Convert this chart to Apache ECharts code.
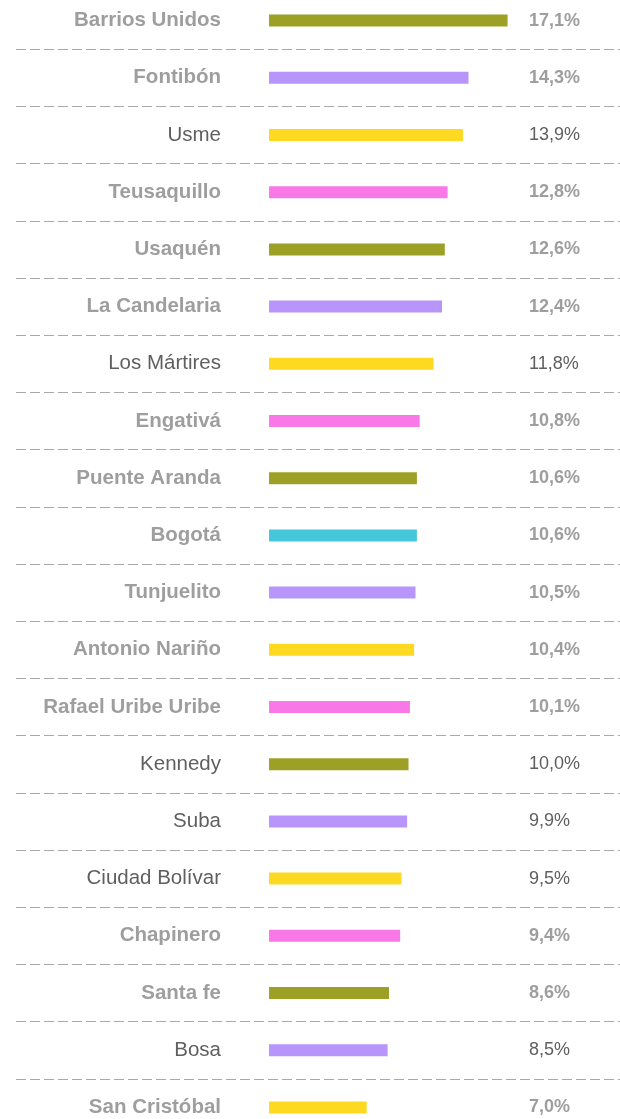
<!DOCTYPE html>
<html>
<head>
<meta charset="utf-8">
<script src="https://cdn.jsdelivr.net/npm/echarts@6/dist/echarts.min.js"></script>
<style>
  html, body { margin: 0; padding: 0; background: #fff; overflow: hidden; }
  /* chart is a bit taller than the window: first/last rows are clipped like in the original */
  #container1 { position: absolute; left: 0; top: -8px; width: 620px; height: 1144px; }
</style>
</head>
<body>
<div id="container1"></div>
<script>
// localidades, ordered as in the chart (top to bottom)
var localidades = ['Barrios Unidos', 'Fontibón', 'Usme', 'Teusaquillo', 'Usaquén',
    'La Candelaria', 'Los Mártires', 'Engativá', 'Puente Aranda', 'Bogotá',
    'Tunjuelito', 'Antonio Nariño', 'Rafael Uribe Uribe', 'Kennedy', 'Suba',
    'Ciudad Bolívar', 'Chapinero', 'Santa fe', 'Bosa', 'San Cristóbal'];
var porcentajes = [17.1, 14.3, 13.9, 12.8, 12.6, 12.4, 11.8, 10.8, 10.6, 10.6,
    10.5, 10.4, 10.1, 10.0, 9.9, 9.5, 9.4, 8.6, 8.5, 7.0];
// rows written in dark, regular text
var resaltadas = ['Usme', 'Los Mártires', 'Kennedy', 'Suba', 'Ciudad Bolívar', 'Bosa'];

var colores = ['#9ca024', '#b795fa', '#fdd921', '#f978e7'];
var colorBogota = '#46c6da';

var dom = document.getElementById("container1");
var myChart = echarts.init(dom);

var barData = porcentajes.map(function (v, i) {
    var c = localidades[i] === 'Bogotá' ? colorBogota : colores[(i > 9 ? i - 1 : i) % 4];
    return { value: v, itemStyle: { color: c } };
});

function tag(name) {
    return resaltadas.indexOf(name) >= 0 ? 'h' : 'g';
}

var nameStyles = {
    g: { color: '#9e9e9e', fontWeight: 'bold', fontSize: 20.5, fontFamily: 'Liberation Sans' },
    h: { color: '#5f5f5f', fontWeight: 'normal', fontSize: 20.5, fontFamily: 'Liberation Sans' }
};
var valueStyles = {
    g: { color: '#9e9e9e', fontWeight: 'bold', fontSize: 18, fontFamily: 'Liberation Sans' },
    h: { color: '#5f5f5f', fontWeight: 'normal', fontSize: 18, fontFamily: 'Liberation Sans' }
};

option = {
    animation: false,
    grid: {
        left: 16,
        right: 0,
        top: 0,
        bottom: 0
    },
    xAxis: {
        type: 'value',
        show: false,
        min: -18.14,
        max: 25.16
    },
    yAxis: [
        {
            type: 'category',
            inverse: true,
            position: 'left',
            data: localidades,
            axisLine: { show: false },
            axisTick: { show: false },
            axisLabel: {
                interval: 0,
                margin: -205,
                align: 'right',
                formatter: function (name) {
                    return '{' + tag(name) + '|' + name + '}';
                },
                rich: nameStyles
            },
            splitLine: {
                show: true,
                interval: 0,
                lineStyle: { color: '#a8a8a8', width: 1, type: [10, 4] }
            }
        },
        {
            type: 'category',
            inverse: true,
            position: 'right',
            data: localidades,
            axisLine: { show: false },
            axisTick: { show: false },
            splitLine: { show: false },
            axisLabel: {
                interval: 0,
                margin: -91,
                align: 'left',
                formatter: function (name) {
                    var i = localidades.indexOf(name);
                    var txt = porcentajes[i].toFixed(1).replace('.', ',') + '%';
                    return '{' + tag(name) + '|' + txt + '}';
                },
                rich: valueStyles
            }
        }
    ],
    series: [
        {
            type: 'bar',
            barWidth: 12,
            data: barData
        }
    ]
};

if (option && typeof option === "object") {
    myChart.setOption(option, true);
}
</script>
</body>
</html>
